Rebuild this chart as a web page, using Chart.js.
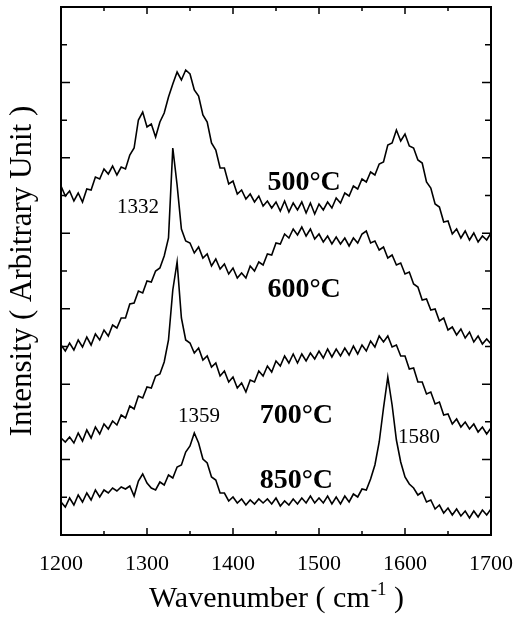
<!DOCTYPE html>
<html>
<head>
<meta charset="utf-8">
<title>Raman spectra vs. deposition temperature</title>
<script src="https://cdn.jsdelivr.net/npm/chart.js@4.4.1/dist/chart.umd.min.js"></script>
<style>
  html, body { margin: 0; padding: 0; background: #fff; }
  #container { width: 514px; height: 618px; }
</style>
</head>
<body>
<div id="container"><canvas id="canvas"></canvas></div>
<script>

// wavenumber grid (cm-1)
var wavenumbers = [1200,1205,1210,1215,1220,1225,1230,1235,1240,1245,1250,1255,1260,1265,1270,1275,1280,1285,1290,1295,
  1300,1305,1310,1315,1320,1325,1330,1335,1340,1345,1350,1355,1360,1365,1370,1375,1380,1385,1390,1395,
  1400,1405,1410,1415,1420,1425,1430,1435,1440,1445,1450,1455,1460,1465,1470,1475,1480,1485,1490,1495,
  1500,1505,1510,1515,1520,1525,1530,1535,1540,1545,1550,1555,1560,1565,1570,1575,1580,1585,1590,1595,
  1600,1605,1610,1615,1620,1625,1630,1635,1640,1645,1650,1655,1660,1665,1670,1675,1680,1685,1690,1695,1700];

// intensities (arbitrary units, curves offset vertically)
var spec500 = [349,339,344,334,342,333,346,345,358,356,366,361,369,360,368,366,380,387,415,423,
  408,411,398,413,422,438,451,463,455,465,461,445,439,420,413,392,385,367,367,351,
  354,341,345,336,341,333,339,329,334,327,333,324,334,323,332,325,333,322,332,321,
  331,325,333,327,337,332,342,339,349,346,356,353,363,360,371,373,390,392,405,394,
  401,389,387,375,372,353,347,331,328,313,314,301,306,297,304,295,302,293,299,295,302];

var spec600 = [190,184,192,185,195,188,198,190,201,195,205,199,210,207,217,217,231,232,244,242,
  254,253,264,267,279,297,387,350,306,294,292,282,288,277,281,269,276,266,271,261,
  267,257,262,257,269,264,273,270,281,280,292,291,301,297,306,300,308,299,306,296,
  301,293,299,291,298,291,297,289,297,292,301,304,292,294,285,288,277,280,270,272,
  261,263,251,248,235,236,225,226,214,217,205,208,200,206,197,203,193,199,191,196,191];

var spec700 = [97,93,98,92,102,94,105,97,108,101,111,106,114,110,120,117,129,126,139,137,
  148,147,159,161,173,195,245,273,217,195,192,182,187,175,179,168,172,159,164,153,
  158,147,152,143,155,153,164,159,169,163,174,169,179,172,181,172,181,174,182,176,
  184,177,186,178,186,179,187,180,189,181,190,184,194,188,199,193,199,188,190,179,
  179,166,167,153,153,141,143,131,133,120,121,111,116,108,113,106,111,103,108,101,107];

var spec850 = [33,28,37,30,40,33,42,35,45,38,45,42,47,44,48,46,49,39,54,61,
  52,47,45,53,50,60,57,68,70,83,89,102,92,76,72,58,55,42,42,34,
  38,32,36,30,35,31,36,32,36,31,37,29,34,30,36,31,37,32,39,32,
  37,32,39,31,38,31,39,33,41,38,46,45,56,70,93,127,158,130,95,73,
  58,51,47,40,43,33,35,26,30,22,27,20,26,19,24,17,24,18,25,20,26];

var seriesNames = ['500°C', '600°C', '700°C', '850°C'];
var seriesData = [spec500, spec600, spec700, spec850];

// axis ranges
var xMin = 1200, xMax = 1700, xMajor = 100, xMinor = 50;
var yMin = 0, yMax = 528, yMajor = 528 / 7, yMinor = 528 / 14;

// text placed on the plot (data coordinates, left/baseline)
var notes = [
  { text: '500°C', x: 1440, y: 345, bold: true },
  { text: '600°C', x: 1440, y: 238, bold: true },
  { text: '700°C', x: 1431, y: 112, bold: true },
  { text: '850°C', x: 1431, y: 47, bold: true },
  { text: '1332', x: 1265, y: 322, bold: false },
  { text: '1359', x: 1336, y: 113, bold: false },
  { text: '1580', x: 1592, y: 92, bold: false }
];

var serif = "'Liberation Serif', 'Times New Roman', serif";

// frame, inward ticks, annotations and x title
var framePlugin = {
  id: 'frame',
  afterDatasetsDraw: function(chart) {
    var ctx = chart.ctx;
    var a = chart.chartArea;
    var xs = chart.scales.x, ys = chart.scales.y;
    ctx.save();
    ctx.strokeStyle = '#000';
    ctx.lineWidth = 2;
    ctx.strokeRect(a.left, a.top, a.right - a.left, a.bottom - a.top);

    ctx.lineWidth = 1.5;
    ctx.beginPath();
    for (var v = xMin + xMinor; v < xMax; v += xMinor) {
      var px = xs.getPixelForValue(v);
      var len = (v % xMajor === 0) ? 7 : 4;
      ctx.moveTo(px, a.bottom); ctx.lineTo(px, a.bottom - len);
      ctx.moveTo(px, a.top); ctx.lineTo(px, a.top + len);
    }
    for (var k = 1; k < 14; k++) {
      var py = ys.getPixelForValue(yMin + k * yMinor);
      var ln = (k % 2 === 0) ? 9 : 6;
      ctx.moveTo(a.left, py); ctx.lineTo(a.left + ln, py);
      ctx.moveTo(a.right, py); ctx.lineTo(a.right - ln, py);
    }
    ctx.stroke();

    // annotations
    ctx.fillStyle = '#000';
    ctx.textAlign = 'left';
    ctx.textBaseline = 'alphabetic';
    notes.forEach(function(n) {
      ctx.font = n.bold ? 'bold 28px ' + serif : '21px ' + serif;
      ctx.fillText(n.text, xs.getPixelForValue(n.x), ys.getPixelForValue(n.y));
    });

    // x axis title with superscript
    var main = 'Wavenumber ( cm', sup = '-1', tail = ' )';
    ctx.font = '30px ' + serif;
    var w1 = ctx.measureText(main).width, w3 = ctx.measureText(tail).width;
    ctx.font = '19px ' + serif;
    var w2 = ctx.measureText(sup).width;
    var x0 = (a.left + a.right) / 2 - (w1 + w2 + w3) / 2;
    var base = 607;
    ctx.font = '30px ' + serif;
    ctx.fillText(main, x0, base);
    ctx.font = '19px ' + serif;
    ctx.fillText(sup, x0 + w1 + 1, base - 12);
    ctx.font = '30px ' + serif;
    ctx.fillText(tail, x0 + w1 + w2 + 1, base);
    ctx.restore();
  }
};

var datasets = [];
for (var s = 0; s < seriesData.length; s++) {
  var pts = [];
  for (var i = 0; i < wavenumbers.length; i++) {
    pts.push({ x: wavenumbers[i], y: seriesData[s][i] });
  }
  datasets.push({
    label: seriesNames[s],
    data: pts,
    borderColor: '#000',
    borderWidth: 1.6,
    pointRadius: 0,
    tension: 0,
    fill: false
  });
}

var ctx = document.getElementById('canvas').getContext('2d');
window.ramanChart = new Chart(ctx, {
  type: 'line',
  data: { datasets: datasets },
  options: {
    responsive: true,
    maintainAspectRatio: false,
    animation: false,
    layout: { padding: { left: 0, right: 23, top: 7, bottom: 0 } },
    plugins: { legend: { display: false }, tooltip: { enabled: false } },
    scales: {
      x: {
        type: 'linear', min: xMin, max: xMax,
        grid: { display: false }, border: { display: false },
        ticks: { stepSize: xMajor, color: '#000', maxRotation: 0, padding: 8,
                 font: { family: serif, size: 22 },
                 callback: function(value) { return String(value); } },
        afterFit: function(sc) { sc.height = 83; sc.paddingLeft = 0; sc.paddingRight = 0; }
      },
      y: {
        min: yMin, max: yMax,
        grid: { display: false }, border: { display: false },
        ticks: { display: false },
        title: { display: true, text: 'Intensity ( Arbitrary Unit )', color: '#000',
                 font: { family: serif, size: 31 }, padding: { top: 4, bottom: 0 } },
        afterFit: function(sc) { sc.width = 61; }
      }
    }
  },
  plugins: [framePlugin]
});

</script>
</body>
</html>
